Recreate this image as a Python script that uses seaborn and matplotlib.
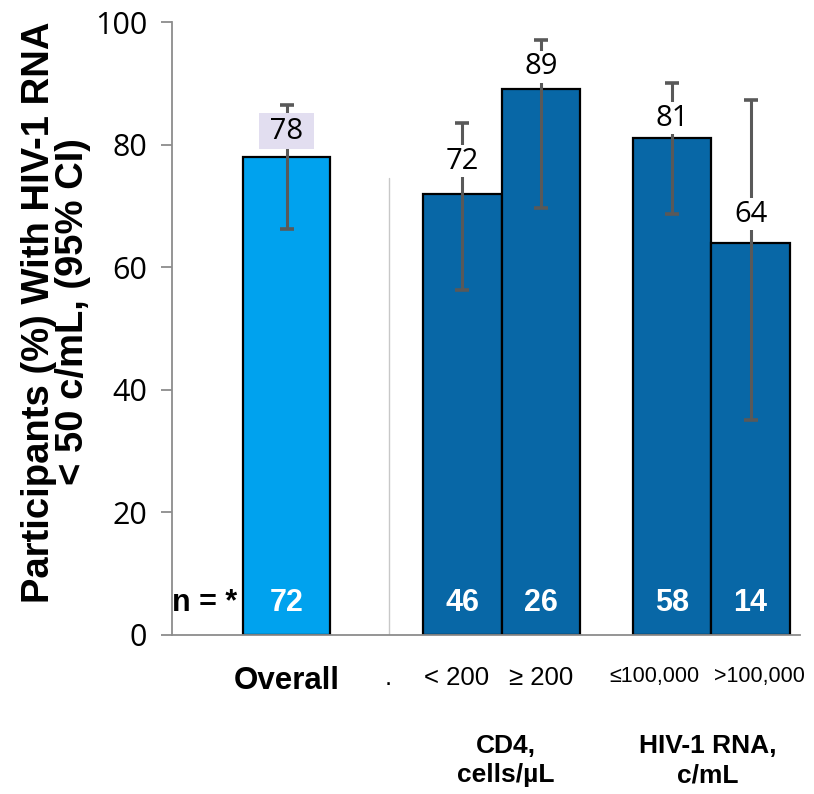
import matplotlib
matplotlib.use("Agg")
import matplotlib.pyplot as plt
import seaborn as sns
import pandas as pd

# ---- data ----
overall_label = ["Overall"]
overall_pct = [78]
overall_ci_low = [66.3]
overall_ci_high = [86.4]
overall_n = [72]

sub_labels = ["< 200", "≥ 200", "≤100,000", ">100,000"]
sub_pct = [72, 89, 81, 64]
sub_ci_low = [56.2, 69.6, 68.6, 35.0]
sub_ci_high = [83.6, 97.1, 90.0, 87.2]
sub_n = [46, 26, 58, 14]

group_labels = ["CD4,\ncells/µL", "HIV-1 RNA,\nc/mL"]
y_ticks = [0, 20, 40, 60, 80, 100]

# ---- layout ----
overall_x = [1.46]
sub_x = [3.70, 4.70, 6.37, 7.37]
sub_label_x = [3.63, 4.70, 6.14, 7.48]
gap_x = 2.75
LIGHT = "#00A2EE"
DARK = "#0867A6"
ERR = "#595959"
AXIS = "#8C8C8C"

sns.set_style("white")
plt.rcParams["font.family"] = ["Liberation Sans", "DejaVu Sans"]
plt.rcParams["text.color"] = "black"
plt.rcParams["xtick.color"] = "black"
plt.rcParams["ytick.color"] = "black"

fig = plt.figure(figsize=(8.14, 7.94), dpi=100)
ax = fig.add_axes([172 / 814, 159 / 794, 628 / 814, 613 / 794])

df_all = pd.DataFrame({"x": overall_x, "pct": overall_pct})
df_sub = pd.DataFrame({"x": sub_x, "pct": sub_pct})

sns.barplot(data=df_all, x="x", y="pct", native_scale=True, orient="x",
            width=1.11, color=LIGHT, saturation=1, errorbar=None,
            edgecolor="black", linewidth=1.6, ax=ax, zorder=2)
sns.barplot(data=df_sub, x="x", y="pct", native_scale=True, orient="x",
            width=1.0, color=DARK, saturation=1, errorbar=None,
            edgecolor="black", linewidth=1.6, ax=ax, zorder=2)

# 95% CI whiskers
all_x = overall_x + sub_x
all_pct = overall_pct + sub_pct
all_low = overall_ci_low + sub_ci_low
all_high = overall_ci_high + sub_ci_high
ax.errorbar(all_x, all_pct,
            yerr=[[p - l for p, l in zip(all_pct, all_low)],
                  [h - p for p, h in zip(all_pct, all_high)]],
            fmt="none", ecolor=ERR, elinewidth=2.2, capsize=5, capthick=2.6,
            zorder=3)

# value labels above bars
label_offsets = [8, 13, 6, 4, 10]  # points above bar top
for i, (x, v) in enumerate(zip(all_x, all_pct)):
    if i == 0:
        text, face, pad = f" {v} ", "#E2DEF0", 0.12
    else:
        text, face, pad = f"{v}", "white", 0.05
    ax.annotate(text, (x, v), xytext=(0, label_offsets[i]),
                textcoords="offset points", ha="center", va="bottom",
                fontsize=21, family="Open Sans", color="black",
                bbox=dict(boxstyle=f"square,pad={pad}", fc=face, ec="none"),
                zorder=5)

# n per group inside the bars
for x, n in zip(all_x, overall_n + sub_n):
    ax.text(x, 5.2, f"{n}", ha="center", va="center", color="white",
            fontsize=22, fontweight="bold", zorder=4)
ax.text(0.42, 5.2, "n = *", ha="center", va="center", color="black",
        fontsize=22, fontweight="bold", zorder=4)

# divider between overall and subgroups
ax.plot([2.76, 2.76], [0, 74.5], color="#C8C8C8", lw=1.0, zorder=1)

ax.set_xlim(0, 8)
ax.set_ylim(0, 100)
ax.set_yticks(y_ticks)
ax.set_yticklabels([str(t) for t in y_ticks], family="Open Sans",
                   fontsize=22, color="black")
ax.tick_params(axis="y", direction="out", length=8, width=1.3, color=AXIS,
               pad=10, left=True)

ax.set_xticks([overall_x[0], gap_x] + sub_label_x)
ax.set_xticklabels(overall_label + ["."] + sub_labels)
ax.tick_params(axis="x", length=0, pad=22)
xt = ax.get_xticklabels()
xt[0].set_fontweight("bold")
xt[0].set_fontsize(22.5)
for t in xt[1:4]:
    t.set_fontsize(18.5)
for t in xt[4:]:
    t.set_fontsize(15.5)

ax.set_xlabel("")
ax.set_ylabel("")
for side in ["top", "right"]:
    ax.spines[side].set_visible(False)
for side in ["left", "bottom"]:
    ax.spines[side].set_color(AXIS)
    ax.spines[side].set_linewidth(1.3)

# subgroup headers under the tick labels
trans = ax.get_xaxis_transform()
ax.text((sub_x[0] + sub_x[1]) / 2 + 0.05, -0.205, group_labels[0],
        transform=trans, ha="center", va="center", fontsize=19,
        fontweight="bold", linespacing=1.25)
ax.text((sub_x[2] + sub_x[3]) / 2 - 0.05, -0.205, group_labels[1],
        transform=trans, ha="center", va="center", fontsize=19,
        fontweight="bold", linespacing=1.25)

fig.text(56 / 814, 1 - 312 / 794,
         "Participants (%) With HIV-1 RNA\n< 50 c/mL, (95% CI)",
         rotation=90, ha="center", va="center", fontsize=27.5,
         fontweight="bold", linespacing=0.95, multialignment="center")

fig.savefig("out.png", dpi=100)
